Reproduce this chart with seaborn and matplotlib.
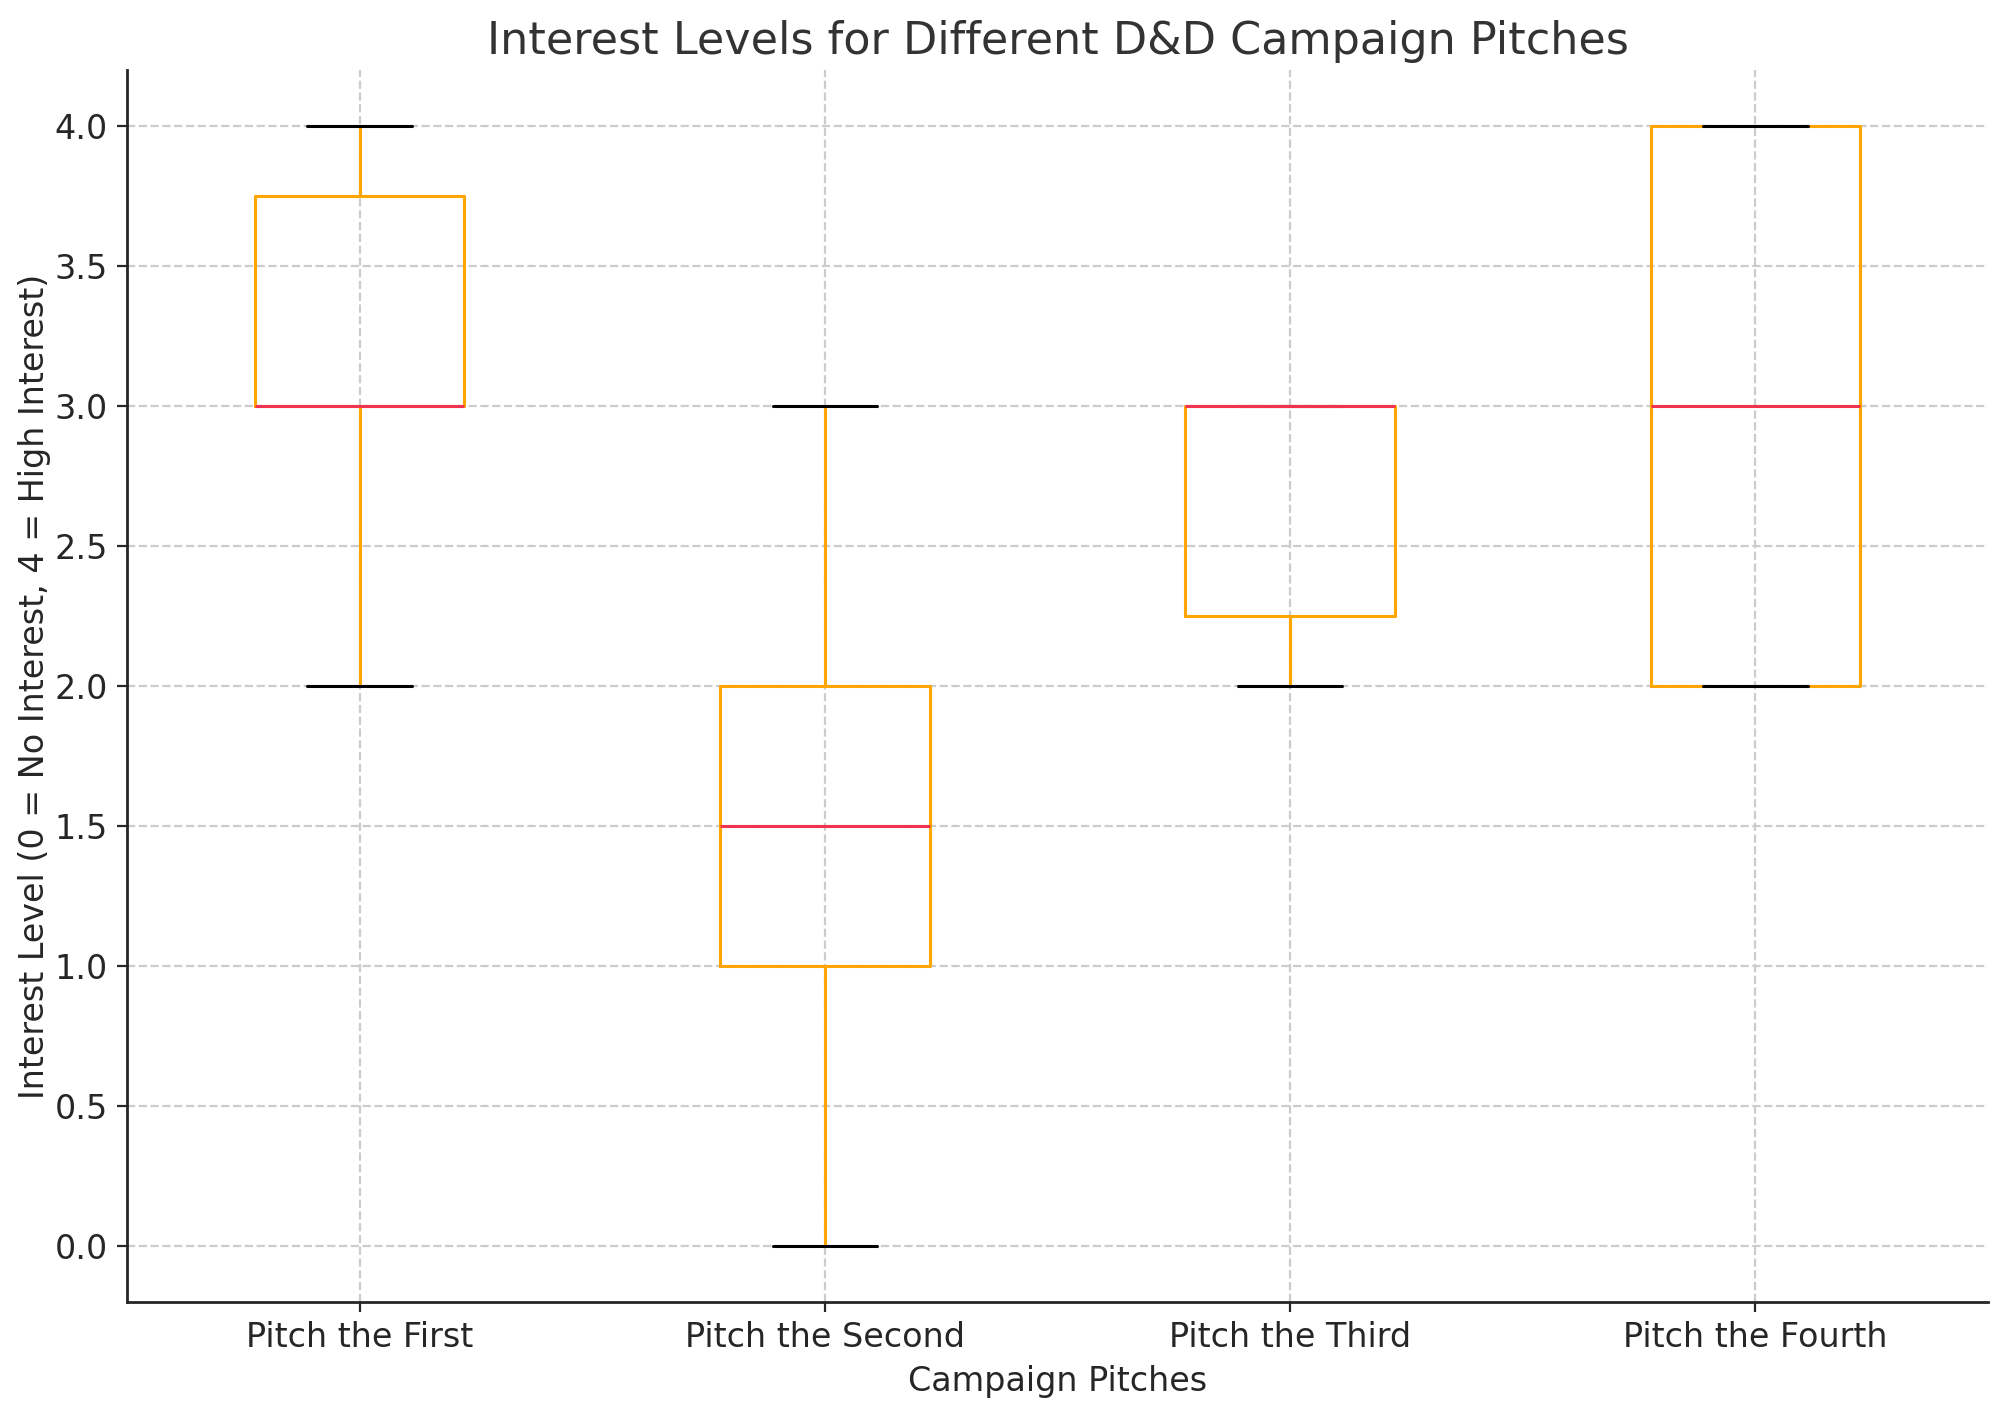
import pandas as pd
import matplotlib
matplotlib.use("Agg")
import matplotlib.pyplot as plt
import seaborn as sns

pitches = ['Pitch the First', 'Pitch the Second', 'Pitch the Third', 'Pitch the Fourth']
# survey answers per pitch (0 = no interest, 4 = high interest)
pitch_first = [2, 3, 3, 3, 4, 4]
pitch_second = [0, 1, 1, 2, 2, 3]
pitch_third = [2, 2, 3, 3, 3, 3]
pitch_fourth = [2, 2, 2, 4, 4, 4]

rows = []
for name, vals in zip(pitches, [pitch_first, pitch_second, pitch_third, pitch_fourth]):
    for v in vals:
        rows.append({'Pitch': name, 'Interest': v})
df = pd.DataFrame(rows)

sns.set_style('white')
plt.rcParams['font.family'] = ['DejaVu Sans']

fig = plt.figure(figsize=(10.035, 7.045), dpi=200)
ax = fig.add_axes([0.0633, 0.076, 0.9272, 0.874])

orange = 'orange'
sns.boxplot(data=df, x='Pitch', y='Interest', order=pitches, width=0.45,
            fill=False, showfliers=False, ax=ax, linewidth=1.1,
            boxprops=dict(color=orange),
            whiskerprops=dict(color=orange),
            capprops=dict(color='black'),
            medianprops=dict(color='#F23350'))

ax.set_xlim(-0.5, 3.5)
ax.set_ylim(-0.2, 4.2)
ax.grid(True, linestyle='--', color='#cccccc', linewidth=0.8)
ax.set_axisbelow(True)
sns.despine(ax=ax)
for s in ['left', 'bottom']:
    ax.spines[s].set_color('#262626')
    ax.spines[s].set_linewidth(1.0)
ax.tick_params(axis='both', which='both', length=3.5, width=0.8, color='#262626',
               labelsize=12, labelcolor='#262626', left=True, bottom=True)

ax.set_title('Interest Levels for Different D&D Campaign Pitches', fontsize=16, color='#333333')
ax.set_xlabel('Campaign Pitches', fontsize=12, color='#262626')
ax.set_ylabel('Interest Level (0 = No Interest, 4 = High Interest)', fontsize=12,
              color='#262626', labelpad=1)

fig.savefig('out.png', dpi=200)
